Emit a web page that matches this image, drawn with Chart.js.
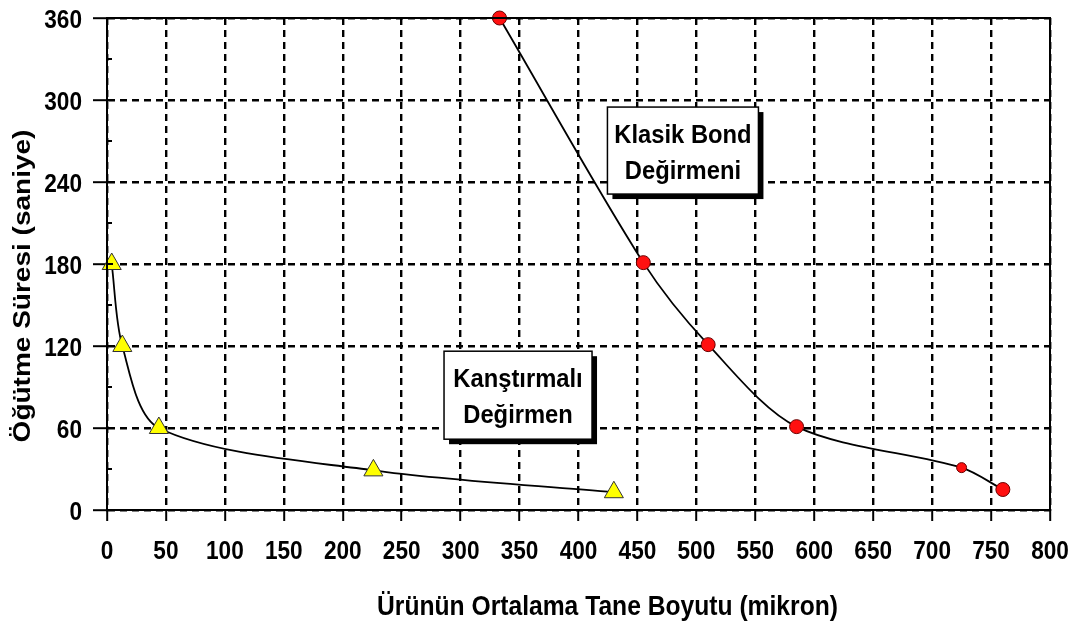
<!DOCTYPE html>
<html>
<head>
<meta charset="utf-8">
<script src="https://cdn.jsdelivr.net/npm/chart.js@4.4.1/dist/chart.umd.min.js"></script>
<style>
  html, body { margin: 0; padding: 0; background: #fff; }
  #wrap { width: 1078px; height: 623px; }
</style>
</head>
<body>
<div id="wrap"><canvas id="grafik"></canvas></div>
<script>
// Karıştırmalı değirmen
const karistirmaliX = [4, 13, 44, 226, 430];
const karistirmaliY = [180, 120, 60, 29, 13];

// Klasik Bond değirmeni
const bondX = [333, 455, 510, 585, 725, 760];
const bondY = [360, 181, 121, 61, 31, 15];

const xTicks = [0, 50, 100, 150, 200, 250, 300, 350, 400, 450, 500, 550, 600, 650, 700, 750, 800];
const yTicks = [0, 60, 120, 180, 240, 300, 360];

const xBaslik = 'Ürünün Ortalama Tane Boyutu (mikron)';
const yBaslik = 'Öğütme Süresi (saniye)';

// kutu notları: merkez veri koordinatında
const notlar = [
    { satirlar: ['Klasik Bond', 'Değirmeni'], x: 488.6, y: 263, w: 151, h: 87 },
    { satirlar: ['Kanştırmalı', 'Değirmen'], x: 348.7, y: 84, w: 148, h: 88 }
];

const FONT = '"Liberation Sans", Arial, sans-serif';

function yazi(ctx, s, x, y, font, sx, sy, align, rot) {
    ctx.save();
    ctx.translate(x, y);
    if (rot) ctx.rotate(rot);
    ctx.scale(sx, sy);
    ctx.font = font;
    ctx.fillStyle = '#000';
    ctx.textAlign = align;
    ctx.textBaseline = 'alphabetic';
    ctx.fillText(s, 0, 0);
    ctx.restore();
}

const sus = {
    id: 'sus',
    beforeDatasetsDraw(chart) {
        const ctx = chart.ctx;
        const xs = chart.scales.x, ys = chart.scales.y;
        notlar.forEach(n => {
            const cx = xs.getPixelForValue(n.x);
            const cy = ys.getPixelForValue(n.y);
            const left = cx - n.w / 2, top = cy - n.h / 2;
            ctx.save();
            ctx.fillStyle = '#000';
            ctx.fillRect(left + 5, top + 5, n.w, n.h);
            ctx.fillStyle = '#fff';
            ctx.fillRect(left, top, n.w, n.h);
            ctx.strokeStyle = '#000';
            ctx.lineWidth = 1.5;
            ctx.strokeRect(left, top, n.w, n.h);
            ctx.restore();
            yazi(ctx, n.satirlar[0], cx, cy - 8, 'bold 25px ' + FONT, 0.95, 1, 'center');
            yazi(ctx, n.satirlar[1], cx, cy + 28, 'bold 25px ' + FONT, 0.95, 1, 'center');
        });
    },
    afterDraw(chart) {
        const ctx = chart.ctx;
        const a = chart.chartArea;
        const xs = chart.scales.x, ys = chart.scales.y;
        ctx.save();
        ctx.strokeStyle = '#000';
        ctx.lineWidth = 2;
        ctx.strokeRect(a.left, a.top, a.right - a.left, a.bottom - a.top);
        // iç taraftaki tik çizgileri
        ctx.beginPath();
        yTicks.forEach(v => {
            const py = ys.getPixelForValue(v);
            ctx.moveTo(a.left, py);
            ctx.lineTo(a.left + 6, py);
        });
        for (let v = 30; v < 360; v += 60) {
            const py = ys.getPixelForValue(v);
            ctx.moveTo(a.left, py);
            ctx.lineTo(a.left + 5, py);
        }
        ctx.stroke();
        ctx.restore();

        const tikFont = 'bold 26px ' + FONT;
        yTicks.forEach(v => {
            yazi(ctx, String(v), a.left - 25, ys.getPixelForValue(v) + 9.5, tikFont, 0.87, 1, 'right');
        });
        xTicks.forEach(v => {
            yazi(ctx, String(v), xs.getPixelForValue(v), a.bottom + 49, tikFont, 0.87, 1, 'center');
        });

        const baslikFont = 'bold 28px ' + FONT;
        yazi(ctx, xBaslik, (a.left + a.right) / 2 + 29, a.bottom + 105, baslikFont, 0.88, 1, 'center');
        yazi(ctx, yBaslik, 30, (a.top + a.bottom) / 2 + 22, baslikFont, 1, 0.85, 'center', -Math.PI / 2);
    }
};

const eksen = (maks, adim, uzunluk) => ({
    type: 'linear',
    min: 0,
    max: maks,
    ticks: { stepSize: adim, display: false },
    grid: {
        color: '#000',
        lineWidth: 2.4,
        drawTicks: true,
        tickLength: uzunluk,
        tickColor: '#000',
        tickWidth: 2
    },
    border: { color: '#000', width: 2, dash: [7, 5] }
});

const xEksen = eksen(800, 50, 11);
xEksen.afterFit = s => { s.height = 113; };
const yEksen = eksen(360, 60, 14);
yEksen.afterFit = s => { s.width = 107; };

const ctx = document.getElementById('grafik').getContext('2d');
const grafik = new Chart(ctx, {
    type: 'line',
    data: {
        datasets: [
            {
                label: 'Karıştırmalı Değirmen',
                data: karistirmaliX.map((x, i) => ({ x: x, y: karistirmaliY[i] })),
                borderColor: '#000',
                borderWidth: 1.8,
                tension: 0.3,
                pointStyle: 'triangle',
                pointRadius: 11,
                pointBackgroundColor: '#ffff00',
                pointBorderColor: '#333',
                pointBorderWidth: 1,
                clip: false
            },
            {
                label: 'Klasik Bond Değirmeni',
                data: bondX.map((x, i) => ({ x: x, y: bondY[i] })),
                borderColor: '#000',
                borderWidth: 1.8,
                tension: 0.3,
                pointStyle: 'circle',
                pointRadius: [7, 7, 7, 7, 5, 7],
                pointBackgroundColor: '#ff1010',
                pointBorderColor: '#6a0000',
                pointBorderWidth: 1,
                clip: false
            }
        ]
    },
    options: {
        responsive: true,
        maintainAspectRatio: false,
        animation: false,
        layout: { padding: { left: 0, right: 28, top: 18, bottom: 0 } },
        scales: { x: xEksen, y: yEksen },
        plugins: {
            legend: { display: false },
            tooltip: { enabled: false }
        }
    },
    plugins: [sus]
});
</script>
</body>
</html>
